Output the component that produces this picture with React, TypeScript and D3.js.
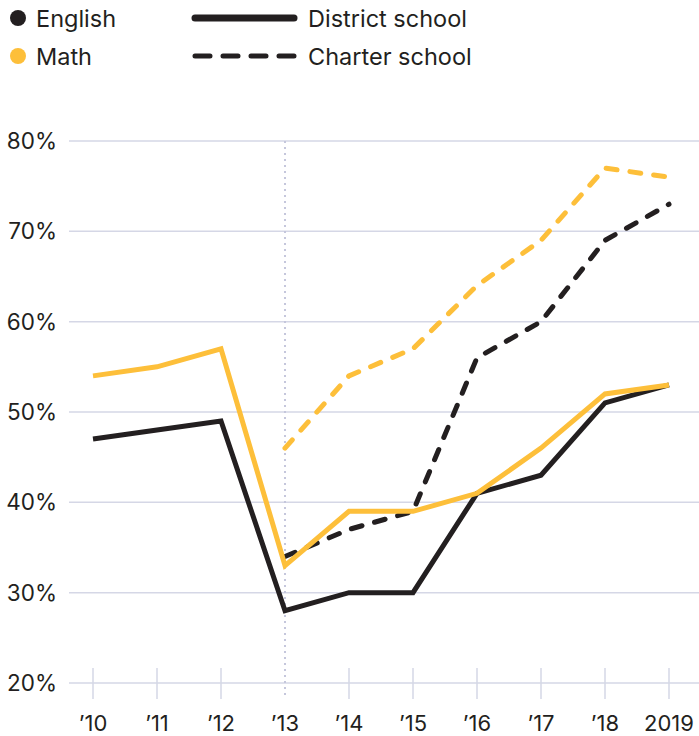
import { useRef, useEffect } from "react";
import * as d3 from "d3";

const years = ["’10", "’11", "’12", "’13", "’14", "’15", "’16", "’17", "’18", "2019"];
const englishDistrict = [47, 48, 49, 28, 30, 30, 41, 43, 51, 53];
const mathDistrict = [54, 55, 57, 33, 39, 39, 41, 46, 52, 53];
// charter schools only reported from '13 on
const englishCharter = [null, null, null, 34, 37, 39, 56, 60, 69, 73];
const mathCharter = [null, null, null, 46, 54, 57, 64, 69, 77, 76];
const yTicks = [20, 30, 40, 50, 60, 70, 80];

const BLACK = "#231f20";
const YELLOW = "#fdbf3a";
const GRID = "#d5d7e6";
const FONT = "Inter, 'Noto Sans', sans-serif";

export default function App() {
  const svgRef = useRef<SVGSVGElement | null>(null);
  const width = 699;
  const height = 736;

  useEffect(() => {
    document.body.style.margin = "0";
    if (!svgRef.current) return;
    const svg = d3.select(svgRef.current);
    svg.selectAll("*").remove();

    const x = d3.scalePoint().domain(years).range([93, 669]);
    const y = d3.scaleLinear().domain([20, 80]).range([683, 141]);

    // gridlines + labels
    const grid = svg.append("g");
    yTicks.forEach((t) => {
      grid
        .append("line")
        .attr("x1", 69)
        .attr("x2", width)
        .attr("y1", y(t))
        .attr("y2", y(t))
        .attr("stroke", GRID)
        .attr("stroke-width", 1.5);
      grid
        .append("text")
        .attr("x", 57)
        .attr("y", y(t) + 8)
        .attr("text-anchor", "end")
        .attr("font-size", 22.5)
        .attr("fill", BLACK)
        .text(`${t}%`);
    });

    // x ticks
    years.forEach((yr, i) => {
      const cx = x(yr)!;
      if (i !== 3) {
        svg
          .append("line")
          .attr("x1", cx)
          .attr("x2", cx)
          .attr("y1", 668)
          .attr("y2", 699)
          .attr("stroke", GRID)
          .attr("stroke-width", 1.5);
      }
      svg
        .append("text")
        .attr("x", cx)
        .attr("y", 731)
        .attr("text-anchor", "middle")
        .attr("font-size", 22)
        .attr("fill", BLACK)
        .text(yr);
    });

    // dotted marker at '13
    svg
      .append("line")
      .attr("x1", x(years[3])!)
      .attr("x2", x(years[3])!)
      .attr("y1", 141)
      .attr("y2", 699)
      .attr("stroke", "#c5c7dc")
      .attr("stroke-width", 2)
      .attr("stroke-dasharray", "2 4");

    const line = d3
      .line<number | null>()
      .defined((d) => d != null)
      .x((_, i) => x(years[i])!)
      .y((d) => y(d as number));

    const series = [
      { values: englishCharter, color: BLACK, dashed: true },
      { values: mathCharter, color: YELLOW, dashed: true },
      { values: englishDistrict, color: BLACK, dashed: false },
      { values: mathDistrict, color: YELLOW, dashed: false },
    ];

    series.forEach((s) => {
      svg
        .append("path")
        .attr("d", line(s.values))
        .attr("fill", "none")
        .attr("stroke", s.color)
        .attr("stroke-width", 5)
        .attr("stroke-linejoin", "miter")
        .attr("stroke-linecap", s.dashed ? "round" : "butt")
        .attr("stroke-dasharray", s.dashed ? "11 13" : null);
    });

    // legend
    const legend = svg.append("g");
    [
      { label: "English", color: BLACK, y: 18 },
      { label: "Math", color: YELLOW, y: 56 },
    ].forEach((d) => {
      legend.append("circle").attr("cx", 18).attr("cy", d.y).attr("r", 8).attr("fill", d.color);
      legend
        .append("text")
        .attr("x", 36)
        .attr("y", d.y + 8.5)
        .attr("font-size", 23.5)
        .attr("fill", BLACK)
        .text(d.label);
    });
    [
      { label: "District school", dashed: false, y: 18 },
      { label: "Charter school", dashed: true, y: 56 },
    ].forEach((d) => {
      legend
        .append("line")
        .attr("x1", 195)
        .attr("x2", 294)
        .attr("y1", d.y)
        .attr("y2", d.y)
        .attr("stroke", BLACK)
        .attr("stroke-width", d.dashed ? 5 : 7)
        .attr("stroke-linecap", "round")
        .attr("stroke-dasharray", d.dashed ? "15 13" : null);
      legend
        .append("text")
        .attr("x", 308)
        .attr("y", d.y + 8.5)
        .attr("font-size", 23.5)
        .attr("fill", BLACK)
        .text(d.label);
    });
  }, []);

  return (
    <svg
      ref={svgRef}
      width={width}
      height={height}
      style={{ display: "block", fontFamily: FONT }}
    />
  );
}
